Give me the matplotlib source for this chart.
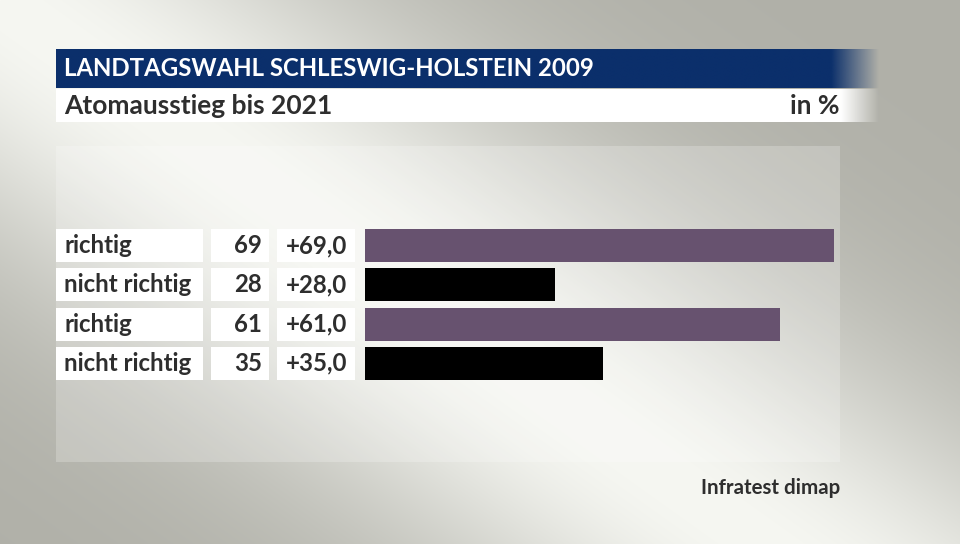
import matplotlib.pyplot as plt
import numpy as np
from matplotlib import font_manager
from matplotlib.patches import Rectangle

# data
labels = ['richtig', 'nicht richtig', 'richtig', 'nicht richtig']
values = [69, 28, 61, 35]
changes = [69.0, 28.0, 61.0, 35.0]
bar_colors = ['#67526f', '#000000', '#67526f', '#000000']
title = 'LANDTAGSWAHL SCHLESWIG-HOLSTEIN 2009'
subtitle = 'Atomausstieg bis 2021'
unit = 'in %'
source = 'Infratest dimap'

navy = '#0b2f6b'
textc = '#2e2e2e'


def pick(names):
    for n in names:
        try:
            font_manager.findfont(font_manager.FontProperties(family=n), fallback_to_default=False)
            return n
        except ValueError:
            pass
    return 'DejaVu Sans'


title_font = pick(['Liberation Sans Narrow', 'Lato'])
body_font = pick(['Lato', 'Open Sans'])

W, H = 960, 544
fig = plt.figure(figsize=(9.6, 5.44), dpi=100)

# background axes in pixel coords
bg = fig.add_axes([0, 0, 1, 1])
bg.axis('off')

yy, xx = np.mgrid[0:H, 0:W]
d = np.abs(xx * 0.581 - yy * 0.814)
w = np.exp(-(d / 210.0) ** 2)
light = np.array([246, 247, 242]) / 255.0
dark = np.array([176, 176, 168]) / 255.0
img = dark + (light - dark) * w[..., None]
bg.imshow(img, extent=(0, W, H, 0), aspect='auto', zorder=0)

# lighter panel
bg.add_patch(Rectangle((56, 146), 784, 316, facecolor='white', alpha=0.22, edgecolor='none', zorder=1))


# header bands with fade on the right
def band(x0, x1, y0, y1, color, fade0):
    rgb = np.array(plt.matplotlib.colors.to_rgb(color))
    xs = np.linspace(x0, x1, 400)
    a = np.clip((x1 - xs) / (x1 - fade0), 0, 1)
    arr = np.zeros((1, len(xs), 4))
    arr[0, :, :3] = rgb
    arr[0, :, 3] = a
    bg.imshow(arr, extent=(x0, x1, y1, y0), aspect='auto', zorder=2, interpolation='bilinear')


band(56, 880, 49, 88, navy, 832)
band(56, 880, 89, 122, '#ffffff', 842)
bg.set_xlim(0, W)
bg.set_ylim(H, 0)

bg.text(64, 69, title, color='white', fontsize=17.3, fontweight='bold',
        family=title_font, va='center', ha='left', zorder=3)
bg.text(64, 106, subtitle, color=textc, fontsize=19, fontweight='bold',
        family=body_font, va='center', ha='left', zorder=3)
bg.text(840, 106, unit, color=textc, fontsize=19, fontweight='bold',
        family=body_font, va='center', ha='right', zorder=3)
bg.text(840, 488, source, color=textc, fontsize=14.8, fontweight='bold',
        family=body_font, va='center', ha='right', zorder=3)

# rows
top, pitch, bh = 226, 39.25, 33
for i, (lab, v, c) in enumerate(zip(labels, values, changes)):
    yc = top + pitch * (i + 0.5)
    y0 = yc - bh / 2
    for x0, x1 in [(56, 203), (211, 269), (277, 355)]:
        bg.add_patch(Rectangle((x0, y0), x1 - x0, bh, facecolor='white', edgecolor='none', zorder=2))
    bg.text(64, yc, lab, color=textc, fontsize=17.3, fontweight='bold', family=body_font,
            va='center', ha='left', zorder=3)
    bg.text(262, yc, str(v), color=textc, fontsize=17.3, fontweight='bold', family=body_font,
            va='center', ha='right', zorder=3)
    bg.text(347, yc, ('+%.1f' % c).replace('.', ','), color=textc, fontsize=17.3,
            fontweight='bold', family=body_font, va='center', ha='right', zorder=3)

# bars
px_per_unit = (834 - 365) / 69.0
ax = fig.add_axes([365 / W, (H - (top + 4 * pitch)) / H, (880 - 365) / W, 4 * pitch / H])
ax.patch.set_alpha(0)
ax.barh(range(len(values)), values, height=bh / pitch, color=bar_colors, edgecolor='none')
ax.set_xlim(0, (880 - 365) / px_per_unit)
ax.set_ylim(len(values) - 0.5, -0.5)
ax.axis('off')

fig.savefig('out.png', dpi=100)
